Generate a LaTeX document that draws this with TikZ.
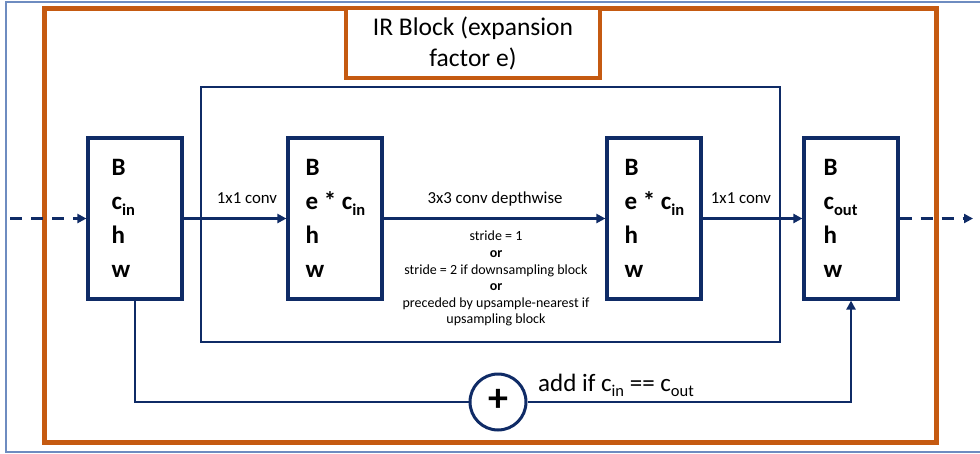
\documentclass[tikz,border=0pt]{standalone}
\usepackage{fontspec}
\usepackage{graphicx}
\setmainfont{Carlito}
\usetikzlibrary{arrows.meta,positioning,calc}

\definecolor{navy}{HTML}{0F2B66}
\definecolor{rust}{HTML}{C55A11}
\definecolor{framecol}{HTML}{6E8CC0}

% lowered, reduced subscript in the current font
\newcommand\lowtxt[1]{\raisebox{-0.22em}{\scalebox{0.66}{#1}}}

\tikzset{
  tensorbox/.style={draw=navy, line width=3.2pt, fill=white, rectangle,
    minimum width=94pt, minimum height=161pt, inner sep=0pt},
  dimtext/.style={anchor=north west, inner sep=0pt, align=left,
    font=\fontsize{25}{34}\selectfont\bfseries},
  flow/.style={draw=navy, line width=2.8pt, -{Triangle[length=9pt,width=9pt]}},
  dashflow/.style={flow, dash pattern=on 12pt off 9pt},
  edgelbl/.style={inner sep=0pt, font=\fontsize{16.8}{19}\selectfont},
  smalllbl/.style={inner sep=0pt, align=center, font=\fontsize{14}{16.6}\selectfont},
}

\begin{document}
\begin{tikzpicture}[x=1pt, y=-1pt]
\useasboundingbox (0,0) rectangle (980,453);

% thin outer frame (open on the right)
\draw[framecol, line width=1.6pt] (990,2) -- (6,2) -- (6,452) -- (990,452);

% orange block outline and its title
\draw[rust, line width=4.5pt] (44.5,8.5) rectangle (936.5,442.5);
\node[draw=rust, line width=4.5pt, fill=white, minimum width=254pt, minimum height=70pt,
      inner sep=0pt, align=center, font=\fontsize{25.5}{31}\selectfont]
  (title) at (473,43) {IR Block (expansion\\factor e)};

% inner frame around the expanded stage
\draw[navy, line width=2.8pt] (201,87) rectangle (780,342);

% tensors
\node[tensorbox] (b1) at (135,218.5) {};
\node[tensorbox] (b2) at (335,218.5) {};
\node[tensorbox] (b3) at (654,218.5) {};
\node[tensorbox] (b4) at (851,218.5) {};

\node[dimtext] (t1) at ($(b1.north west)+(25,23)$) {B\\c\lowtxt{in}\\h\\w};
\node[dimtext] (t2) at ($(b2.north west)+(19,23)$) {B\\e * c\lowtxt{in}\\h\\w};
\node[dimtext] (t3) at ($(b3.north west)+(19,23)$) {B\\e * c\lowtxt{in}\\h\\w};
\node[dimtext] (t4) at ($(b4.north west)+(21,23)$) {B\\c\lowtxt{out}\\h\\w};

% free ends of the dashed in/out lines
\coordinate (inp) at (10,218.5);
\coordinate (outp) at (973,218.5);

\draw[dashflow] (inp) -- (b1.west);
\draw[dashflow] (b4.east) -- (outp);
\draw[flow] (b1.east) -- (b2.west);
\draw[flow] (b2.east) -- (b3.west);
\draw[flow] (b3.east) -- (b4.west);

% edge labels
\node[edgelbl, anchor=base] (l1) at (247,203) {1x1 conv};
\node[edgelbl, anchor=base] (l2) at (495,203) {3x3 conv depthwise};
\node[edgelbl, anchor=base] (l3) at (741,203) {1x1 conv};
\node[smalllbl, anchor=north] (l4) at (496,231)
  {stride = 1\\\textbf{or}\\stride = 2 if downsampling block\\\textbf{or}\\preceded by upsample-nearest if\\upsampling block};

% residual path
\node[draw=navy, line width=3pt, fill=white, circle, minimum size=56pt, inner sep=0pt,
      font=\fontsize{40}{40}\selectfont\bfseries] (add) at (498,402) {\raisebox{0.06em}{+}};
\coordinate (c1) at (b1.south |- add);
\coordinate (c2) at (b4.south |- add);
\draw[navy, line width=2.8pt] (b1.south) -- (c1) -- (add.west);
\draw[flow] (add.east) -- (c2) -- (b4.south);
\node[inner sep=0pt, anchor=base west, font=\fontsize{25}{28}\selectfont]
  (addlbl) at (538,391) {add if c\lowtxt{in} == c\lowtxt{out}};

\end{tikzpicture}
\end{document}
